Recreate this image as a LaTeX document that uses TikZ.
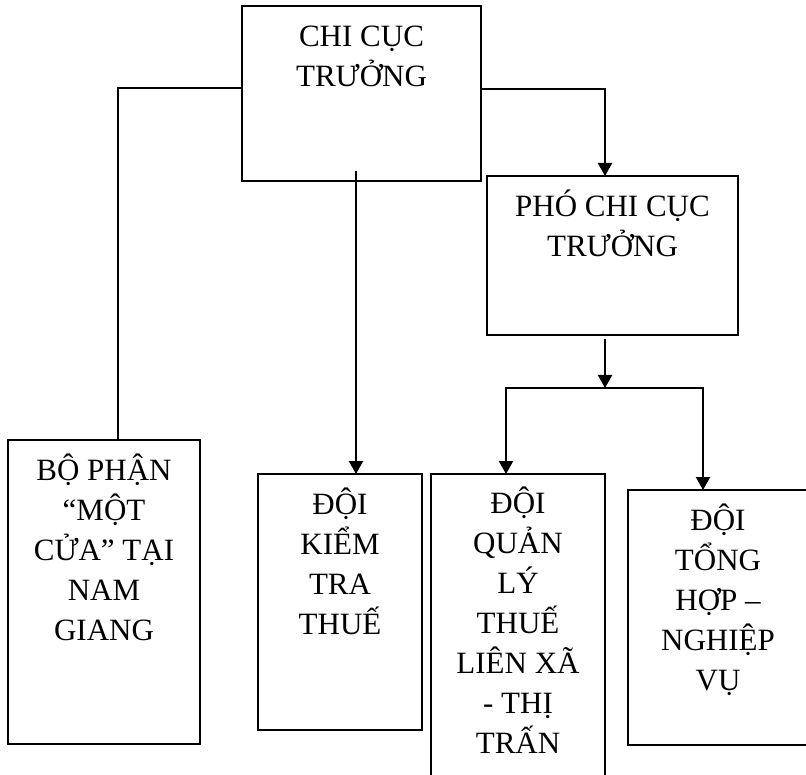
\documentclass[tikz,border=0pt]{standalone}
\usepackage{fontspec}
\setmainfont{Liberation Serif}
\usetikzlibrary{positioning, arrows.meta}
\tikzset{
    orgbox/.style={rectangle, draw, line width=2pt, inner sep=0pt, outer sep=0pt},
    orgtext/.style={align=center, inner sep=0pt, outer sep=0pt, font=\fontsize{31}{40}\selectfont},
    link/.style={line width=2.2pt},
    arrow/.style={link, -{Triangle[width=14pt,length=13pt]}},
}
\newcommand{\firstline}{\rule{0pt}{30pt}}

\begin{document}
\begin{tikzpicture}[x=1pt, y=-1pt]
        \useasboundingbox (0,0) rectangle (806,775);
        \clip (0,0) rectangle (806,775);

        \node[orgbox, minimum width=239pt, minimum height=175pt] (chi) at (361.5,93.5) {};
        \node[orgbox, minimum width=251pt, minimum height=159pt] (pho) at (612.5,255.5) {};
        \node[orgbox, minimum width=192pt, minimum height=304pt] (bo) at (104,592) {};
        \node[orgbox, minimum width=164pt, minimum height=256pt] (kiem) at (340,602) {};
        \node[orgbox, minimum width=174pt, minimum height=326pt] (quan) at (518,637) {};
        \node[orgbox, minimum width=180pt, minimum height=255pt] (tong) at (718,617.5) {};

        \node[orgtext, below=11pt of chi.north] (chitext) {\firstline CHI CỤC\\TRƯỞNG};
        \node[orgtext, below=11pt of pho.north] (photext) {\firstline PHÓ CHI CỤC\\TRƯỞNG};
        \node[orgtext, below=10pt of bo.north] (botext) {\firstline BỘ PHẬN\\“MỘT\\CỬA” TẠI\\NAM\\GIANG};
        \node[orgtext, below=10pt of kiem.north] (kiemtext) {\firstline ĐỘI\\KIỂM\\TRA\\THUẾ};
        \node[orgtext, below=9pt of quan.north] (quantext) {\firstline ĐỘI\\QUẢN\\LÝ\\THUẾ\\LIÊN XÃ\\- THỊ\\TRẤN};
        \node[orgtext, below=10pt of tong.north] (tongtext) {\firstline ĐỘI\\TỔNG\\HỢP –\\NGHIỆP\\VỤ};

        \coordinate (kstart) at (356,171);
        \coordinate (split) at (605,388);

        \draw[link] ([yshift=5.5pt]chi.west) -| ([xshift=14pt]bo.north);
        \draw[arrow] ([yshift=4.5pt]chi.east) -| ([xshift=-7.5pt]pho.north);
        \draw[arrow] (kstart) -- (kstart |- kiem.north);
        \draw[arrow] ([xshift=-7.5pt, yshift=-4pt]pho.south) -- (split);
        \draw[arrow] (split) -| ([xshift=-12pt]quan.north);
        \draw[arrow] (split) -| ([xshift=-15pt]tong.north);
    \end{tikzpicture}
\end{document}
